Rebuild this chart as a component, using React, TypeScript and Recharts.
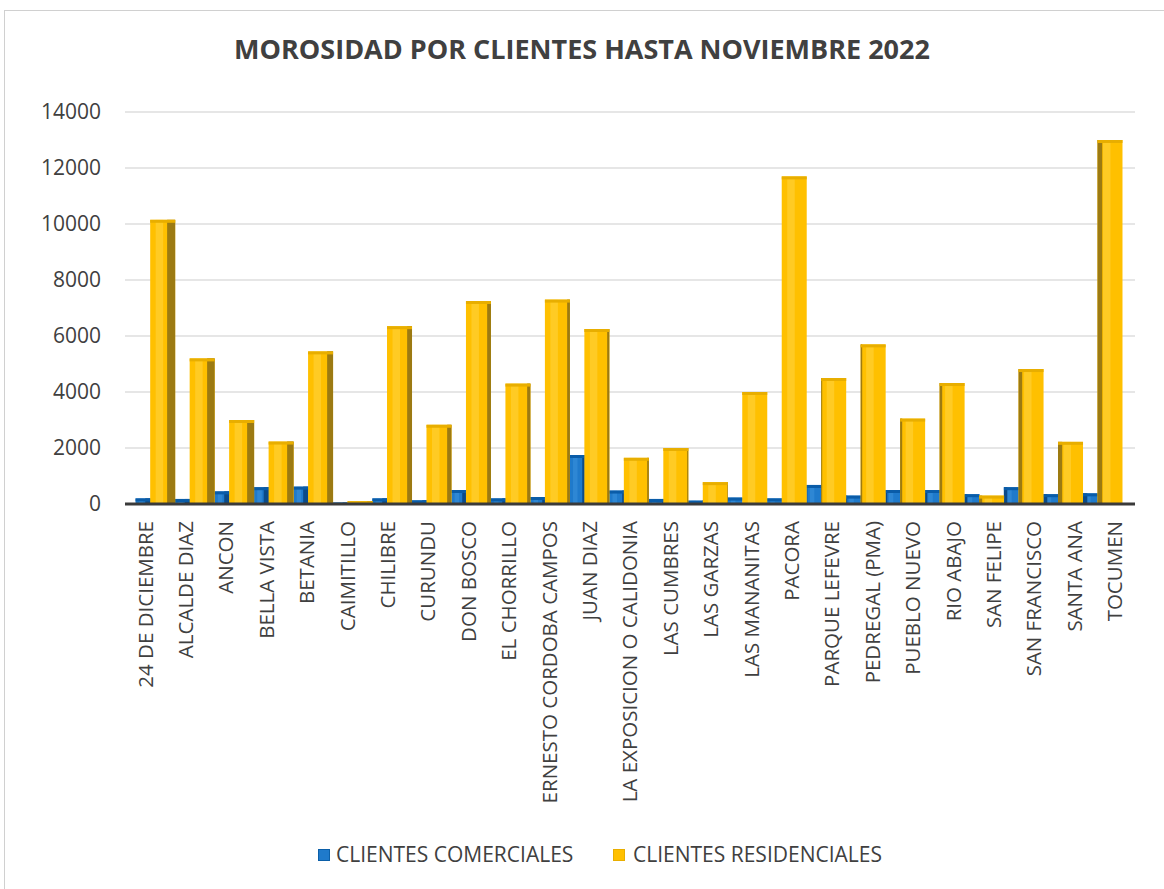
import React from 'react';
import { BarChart, Bar, XAxis, YAxis, CartesianGrid } from 'recharts';

const categories = [
  '24 DE DICIEMBRE', 'ALCALDE DIAZ', 'ANCON', 'BELLA VISTA', 'BETANIA', 'CAIMITILLO',
  'CHILIBRE', 'CURUNDU', 'DON BOSCO', 'EL CHORRILLO', 'ERNESTO CORDOBA CAMPOS', 'JUAN DIAZ',
  'LA EXPOSICION O CALIDONIA', 'LAS CUMBRES', 'LAS GARZAS', 'LAS MANANITAS', 'PACORA',
  'PARQUE LEFEVRE', 'PEDREGAL (PMA)', 'PUEBLO NUEVO', 'RIO ABAJO', 'SAN FELIPE',
  'SAN FRANCISCO', 'SANTA ANA', 'TOCUMEN',
];

const comerciales = [
  200, 180, 450, 600, 620, 50, 200, 130, 500, 200, 250, 1750, 480, 180, 120, 230, 200,
  680, 300, 500, 500, 350, 600, 350, 380,
];

const residenciales = [
  10150, 5200, 3000, 2230, 5450, 100, 6350, 2830, 7250, 4300, 7300, 6250, 1650, 2000, 780,
  4000, 11700, 4500, 5700, 3050, 4320, 300, 4820, 2220, 13000,
];

const yTicks = [0, 2000, 4000, 6000, 8000, 10000, 12000, 14000];

const seriesNames = ['CLIENTES COMERCIALES', 'CLIENTES RESIDENCIALES'];

const data = categories.map((name, i) => ({
  name,
  comerciales: comerciales[i],
  residenciales: residenciales[i],
}));

const FONT = '"Open Sans", "Liberation Sans", sans-serif';
const TEXT = '#404040';
const VP = 760;
// mild perspective: bars (at the back) spread slightly less than labels (in front)
const PERSP_CENTER = 583;
const PERSP_SCALE = 0.977;

function makeShape(front: string, side: string, top: string, light: string) {
  return (props: any) => {
    const { x: x0, y, width, height } = props;
    if (width == null || height == null || height <= 0) return <g />;
    const x = PERSP_CENTER + (x0 - PERSP_CENTER) * PERSP_SCALE;
    const cx = x + width / 2;
    const s = Math.min(width * 0.35, Math.abs(cx - VP) * 0.0135);
    const t = Math.min(height, 3);
    const leftSide = cx > VP;
    return (
      <g>
        <rect x={x} y={y} width={width} height={height} fill={front} />
        <rect x={x + width * 0.22} y={y} width={width * 0.3} height={height} fill={light} opacity={0.35} />
        {s > 0.5 && (
          <rect
            x={leftSide ? x : x + width - s}
            y={y}
            width={s}
            height={height}
            fill={side}
          />
        )}
        <rect x={x} y={y} width={width} height={t} fill={top} />
      </g>
    );
  };
}

const YellowShape = makeShape('#FFC000', '#9C7A12', '#E8AE00', '#FFE066');
const BlueShape = makeShape('#1F7ACB', '#0B4A88', '#0A5CA8', '#4BA0E6');

const XTick = (props: any) => {
  const { x, y, payload } = props;
  return (
    <text
      x={x}
      y={y}
      transform={`rotate(-90, ${x}, ${y})`}
      textAnchor="end"
      dy="0.36em"
      fill={TEXT}
      fontSize={20.5}
      fontFamily={FONT}
    >
      {payload.value}
    </text>
  );
};

export default function App() {
  return (
    <div
      style={{
        position: 'absolute',
        left: 0,
        top: 0,
        width: 1164,
        height: 889,
        background: '#ffffff',
        overflow: 'hidden',
        fontFamily: FONT,
      }}
    >
      <div
        style={{
          position: 'absolute',
          left: 4,
          top: 10,
          width: 1200,
          height: 900,
          border: '1px solid #d0d0d0',
          boxSizing: 'border-box',
        }}
      />
      <div
        style={{
          position: 'absolute',
          left: 0,
          top: 33,
          width: 1164,
          textAlign: 'center',
          fontSize: 27,
          lineHeight: '32px',
          fontWeight: 700,
          color: TEXT,
          fontFamily: FONT,
        }}
      >
        MOROSIDAD POR CLIENTES HASTA NOVIEMBRE 2022
      </div>
      <div style={{ position: 'absolute', left: 0, top: 0 }}>
        <BarChart
          width={1164}
          height={889}
          data={data}
          margin={{ top: 112, right: 29, left: 10, bottom: 85 }}
          barGap={0}
          barCategoryGap={0}
        >
          <CartesianGrid vertical={false} stroke="#dedede" strokeWidth={1.5} />
          <XAxis
            dataKey="name"
            interval={0}
            height={300}
            tick={<XTick />}
            tickLine={false}
            tickMargin={11}
            axisLine={{ stroke: '#3a3a3a', strokeWidth: 3 }}
          />
          <YAxis
            width={115}
            domain={[0, 14000]}
            ticks={yTicks}
            axisLine={false}
            tickLine={false}
            tickMargin={18}
            tick={{ fill: TEXT, fontSize: 21, fontFamily: FONT }}
          />
          <Bar
            dataKey="comerciales"
            name={seriesNames[0]}
            fill="#1F7ACB"
            barSize={15}
            shape={BlueShape}
            isAnimationActive={false}
          />
          <Bar
            dataKey="residenciales"
            name={seriesNames[1]}
            fill="#FFC000"
            barSize={25}
            shape={YellowShape}
            isAnimationActive={false}
          />
        </BarChart>
      </div>
      <div
        style={{
          position: 'absolute',
          left: 318,
          top: 849,
          width: 12,
          height: 12,
          background: '#1F7ACB',
          border: '1px solid #0B5FA8',
          boxSizing: 'border-box',
        }}
      />
      <div
        style={{
          position: 'absolute',
          left: 336,
          top: 840,
          fontSize: 21,
          lineHeight: '29px',
          color: TEXT,
          whiteSpace: 'nowrap',
        }}
      >
        {seriesNames[0]}
      </div>
      <div
        style={{
          position: 'absolute',
          left: 613,
          top: 849,
          width: 12,
          height: 12,
          background: '#FFC000',
          border: '1px solid #E8AE00',
          boxSizing: 'border-box',
        }}
      />
      <div
        style={{
          position: 'absolute',
          left: 633,
          top: 840,
          fontSize: 21,
          lineHeight: '29px',
          color: TEXT,
          whiteSpace: 'nowrap',
        }}
      >
        {seriesNames[1]}
      </div>
    </div>
  );
}
